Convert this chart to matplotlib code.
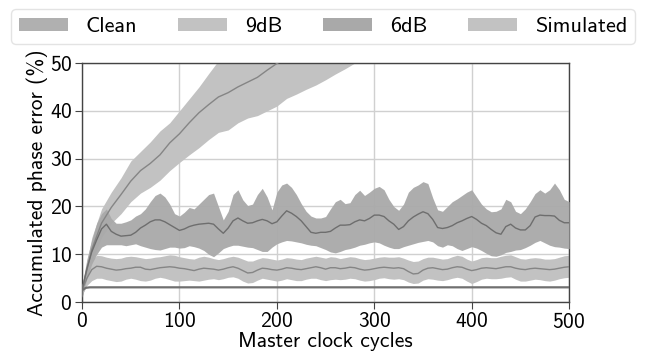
import matplotlib
matplotlib.use('Agg')
import matplotlib.pyplot as plt
from matplotlib.patches import Patch

plt.rcParams['font.family'] = ['cmss10', 'DejaVu Sans']
plt.rcParams['axes.formatter.use_mathtext'] = True

# ---- data ----
clean_cycles = [0, 4, 8, 500]
clean_mean = [2.5, 3.0, 3.1, 3.1]

db9_cycles = list(range(0, 301, 10))
db9_mean = [2.5, 11.0, 16.5, 19.8, 22.5, 25.3, 27.5, 29.0, 30.8, 33.3, 35.2,
            37.5, 39.6, 41.3, 42.9, 43.8, 45.0, 46.0, 47.0, 48.5, 49.9,
            51.0, 52.0, 53.0, 54.0, 55.0, 56.0, 57.0, 58.0, 59.0, 60.0]
db9_upper = [3.5, 13.5, 19.5, 23.0, 26.0, 29.5, 31.5, 33.5, 35.8, 37.5, 40.0,
             42.5, 45.0, 47.8, 50.5, 52.0, 53.0, 54.0, 55.0, 56.0, 57.0,
             58.0, 59.0, 60.0, 61.0, 62.0, 63.0, 64.0, 65.0, 66.0, 67.0]
db9_lower = [1.0, 8.5, 13.5, 16.5, 18.5, 21.0, 22.8, 24.0, 25.5, 27.5, 29.2,
             30.8, 32.3, 34.0, 35.5, 36.0, 37.5, 38.5, 39.0, 40.0, 41.0,
             42.6, 43.5, 44.5, 45.4, 46.5, 47.7, 48.8, 50.0, 51.0, 52.0]

db6_cycles = list(range(0, 501, 5))
db6_mean = [2.5, 7.0, 10.5, 13.0, 15.3, 16.3, 14.8, 14.2, 13.8, 13.9,
            14.0, 14.6, 15.5, 16.1, 16.8, 17.2, 17.2, 16.8, 16.2, 15.6,
            15.0, 15.3, 15.8, 16.1, 16.3, 16.4, 16.5, 16.3, 15.3, 14.4,
            15.5, 17.0, 17.6, 17.0, 16.5, 16.6, 17.0, 17.3, 17.0, 16.4,
            16.8, 18.0, 19.1, 18.6, 17.9, 17.0, 15.8, 14.6, 14.4, 14.6,
            14.6, 14.8, 15.5, 16.1, 16.1, 16.2, 16.8, 17.2, 17.0, 17.5,
            18.2, 18.2, 17.9, 17.0, 16.3, 15.2, 15.8, 17.0, 17.8, 18.4,
            18.9, 18.5, 17.3, 15.6, 15.4, 15.6, 16.0, 16.6, 17.0, 17.5,
            17.9, 17.3, 16.5, 16.0, 15.2, 14.5, 14.2, 15.8, 16.3, 15.5,
            15.1, 15.1, 16.0, 17.8, 18.2, 18.1, 18.1, 18.0, 17.1, 16.6,
            16.6]
db6_upper = [3.5, 9.0, 13.0, 16.5, 18.5, 19.5, 17.5, 16.5, 16.5, 16.8,
             17.2, 18.0, 18.5, 19.5, 21.0, 22.3, 22.8, 22.0, 20.5, 18.5,
             18.0, 18.8, 19.8, 19.5, 20.5, 21.5, 22.5, 22.8, 20.0, 17.2,
             19.0, 22.5, 23.5, 21.4, 20.2, 20.5, 22.5, 23.8, 22.0, 19.3,
             23.0, 24.5, 24.9, 24.0, 22.5, 20.6, 19.0, 18.0, 17.6, 17.6,
             17.9, 19.5, 21.0, 21.5, 20.6, 20.8, 22.5, 23.4, 22.3, 23.0,
             23.8, 24.2, 23.5, 21.5, 20.0, 19.2, 20.5, 23.0, 24.0, 24.5,
             25.2, 24.8, 21.8, 19.3, 19.0, 20.0, 21.0, 21.6, 22.3, 23.0,
             23.5, 22.0, 20.5, 19.5, 18.9, 19.0, 19.5, 21.5, 21.0, 19.0,
             18.5, 19.5, 21.0, 22.7, 23.5, 22.8, 23.5, 24.9, 23.5, 21.5,
             21.0]
db6_lower = [1.0, 5.0, 8.0, 10.0, 11.5, 12.0, 12.0, 12.0, 12.0, 11.8,
             12.0, 12.2, 11.8, 11.5, 11.2, 11.0, 10.9, 11.2, 11.5, 11.5,
             11.3, 11.4, 11.8, 11.6, 11.3, 10.8, 10.0, 9.5, 10.3, 11.2,
             11.6, 11.9, 11.9, 11.7, 11.5, 11.4, 11.0, 10.6, 10.6, 11.5,
             12.2, 12.6, 12.9, 12.8, 12.6, 12.4, 12.1, 11.9, 11.8, 11.4,
             11.0, 10.5, 10.3, 10.6, 11.0, 11.2, 11.5, 11.9, 12.1, 12.4,
             12.6, 12.4, 11.9, 11.5, 11.2, 11.2, 11.6, 11.9, 12.2, 12.5,
             12.7, 12.9, 12.6, 11.8, 11.5, 12.0, 11.8, 11.2, 10.8, 11.2,
             11.6, 11.3, 10.8, 10.2, 9.7, 9.6, 9.9, 10.4, 10.6, 10.9,
             11.0, 11.4, 11.9, 12.5, 12.9, 12.4, 11.9, 11.6, 11.5, 11.3,
             11.2]

sim_cycles = list(range(0, 501, 5))
sim_mean = [2.5, 5.0, 6.8, 7.5, 7.4, 7.1, 6.9, 6.7, 6.8, 7.0,
            7.1, 7.3, 7.3, 6.9, 6.8, 7.0, 7.2, 7.3, 7.4, 7.3,
            7.1, 7.0, 6.8, 6.6, 6.9, 7.1, 7.0, 6.9, 6.7, 6.9,
            7.2, 7.4, 7.1, 6.6, 6.1, 6.2, 6.7, 7.1, 7.0, 6.8,
            6.7, 6.9, 7.2, 7.1, 6.9, 6.8, 7.0, 7.2, 7.4, 7.2,
            6.9, 7.2, 7.2, 7.0, 7.1, 7.3, 7.2, 6.9, 6.7, 6.8,
            7.0, 7.2, 7.3, 7.2, 7.1, 7.2, 7.0, 6.4, 5.9, 6.0,
            6.7, 7.1, 7.2, 7.0, 6.8, 6.9, 7.2, 7.4, 7.3, 6.9,
            6.6, 6.8, 7.1, 7.2, 7.1, 7.0, 7.2, 7.4, 7.4, 7.1,
            6.9, 6.8, 7.0, 7.1, 7.0, 6.9, 6.8, 6.9, 7.1, 7.3,
            7.4]
sim_upper = [3.5, 6.5, 8.8, 9.8, 9.7, 9.4, 9.2, 9.1, 9.2, 9.5,
             9.6, 9.5, 9.3, 9.1, 9.2, 9.4, 9.5, 9.7, 9.9, 9.8,
             9.5, 9.3, 9.1, 9.0, 9.4, 9.6, 9.4, 9.1, 8.9, 9.1,
             9.4, 9.6, 9.4, 9.0, 8.6, 8.6, 9.0, 9.3, 9.2, 9.0,
             8.8, 9.0, 9.3, 9.2, 9.0, 8.9, 9.2, 9.4, 9.6, 9.4,
             9.2, 9.5, 9.4, 9.1, 9.3, 9.5, 9.4, 9.1, 8.9, 9.0,
             9.2, 9.4, 9.5, 9.4, 9.4, 9.5, 9.2, 8.8, 8.5, 8.6,
             9.1, 9.4, 9.4, 9.2, 9.0, 9.1, 9.5, 9.8, 9.6, 9.0,
             8.6, 8.9, 9.3, 9.4, 9.3, 9.3, 9.6, 9.8, 9.9, 9.5,
             9.1, 9.0, 9.2, 9.3, 9.2, 9.0, 9.0, 9.1, 9.4, 9.7,
             9.8]
sim_lower = [1.5, 3.5, 4.5, 5.0, 5.0, 4.7, 4.5, 4.3, 4.4, 4.8,
             5.0, 4.8, 4.5, 4.4, 4.6, 5.0, 5.2, 5.0, 4.7, 4.4,
             4.4, 4.5, 4.6, 4.5, 4.4, 4.6, 4.8, 4.9, 4.7, 4.9,
             5.2, 5.3, 5.0, 4.4, 4.0, 4.1, 4.6, 5.0, 4.8, 4.6,
             4.4, 4.6, 4.9, 4.7, 4.5, 4.5, 4.8, 5.0, 5.0, 4.7,
             4.5, 4.7, 4.8, 4.7, 4.8, 5.0, 4.9, 4.6, 4.4, 4.5,
             4.7, 5.0, 5.1, 4.9, 4.8, 4.9, 4.7, 4.2, 3.9, 4.0,
             4.6, 4.9, 4.8, 4.6, 4.5, 4.7, 5.0, 5.2, 5.0, 4.4,
             3.9, 4.3, 4.8, 5.0, 4.9, 4.9, 5.0, 5.2, 5.3, 4.8,
             4.4, 4.4, 4.6, 4.8, 4.7, 4.5, 4.4, 4.6, 4.9, 5.1,
             5.2]

labels = ['Clean', '9dB', '6dB', 'Simulated']
fill_colors = ['#b0b0b0', '#c2c2c2', '#a9a9a9', '#c2c2c2']

fig = plt.figure(figsize=(6.46, 3.58), dpi=100)
ax = fig.add_axes([0.127, 0.156, 0.754, 0.668])

# bands
ax.fill_between(db9_cycles, db9_lower, db9_upper, color=fill_colors[1], lw=0, zorder=2)
ax.fill_between(sim_cycles, sim_lower, sim_upper, color=fill_colors[3], lw=0, zorder=2)
ax.fill_between(db6_cycles, db6_lower, db6_upper, color=fill_colors[2], lw=0, alpha=0.95, zorder=3)

# mean lines
ax.plot(db9_cycles, db9_mean, color='#858585', lw=1.0, zorder=4)
ax.plot(sim_cycles, sim_mean, color='#858585', lw=1.0, zorder=4)
ax.plot(db6_cycles, db6_mean, color='#6e6e6e', lw=1.0, zorder=4)
ax.plot(clean_cycles, clean_mean, color='#707070', lw=1.6, zorder=5)

ax.set_xlim(0, 500)
ax.set_ylim(0, 50)
ax.set_xticks([0, 100, 200, 300, 400, 500])
ax.set_yticks([0, 10, 20, 30, 40, 50])
ax.grid(True, color='#d0d0d0', lw=1.0, zorder=0)
ax.set_axisbelow(True)
for s in ax.spines.values():
    s.set_color('#444444')
    s.set_linewidth(1.0)
ax.tick_params(labelsize=15.5, length=5, color='#444444', pad=2)
ax.set_xlabel('Master clock cycles', fontsize=15.5, labelpad=0)
ax.set_ylabel('Accumulated phase error (%)', fontsize=15.5, labelpad=1)

handles = [Patch(facecolor=c, edgecolor='none') for c in fill_colors]
fig.legend(handles, labels, loc='upper left', bbox_to_anchor=(0.0, 1.005, 1.0, 0.0),
           mode='expand', ncol=4, fontsize=16, handlelength=2.2, handleheight=0.55,
           frameon=True, edgecolor='#dddddd', fancybox=True, borderpad=0.35)

fig.savefig('out.png', dpi=100)
